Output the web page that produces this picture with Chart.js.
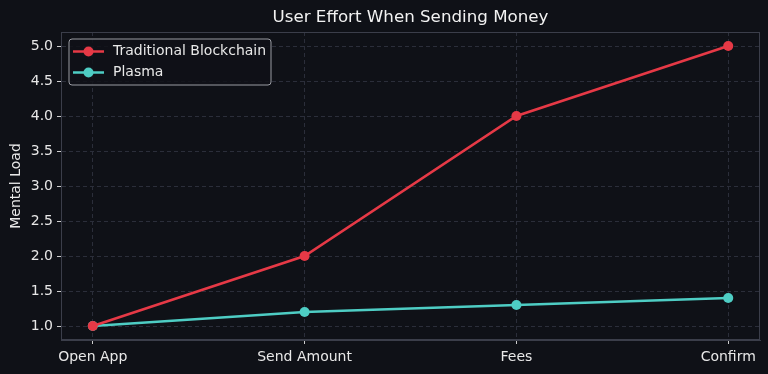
<!DOCTYPE html>
<html>
<head>
<meta charset="utf-8">
<script src="https://cdn.jsdelivr.net/npm/chart.js@4.4.0/dist/chart.umd.min.js"></script>
<style>
html,body{margin:0;padding:0;background:#0f1117;}
#wrap{width:768px;height:374px;position:relative;}
</style>
</head>
<body>
<div id="wrap"><canvas id="c" width="768" height="374"></canvas></div>
<script>
const categories = ["Open App", "Send Amount", "Fees", "Confirm"];
const traditional = [1.0, 2.0, 4.0, 5.0];
const plasma = [1.0, 1.2, 1.3, 1.4];
const yTicks = [1.0, 1.5, 2.0, 2.5, 3.0, 3.5, 4.0, 4.5, 5.0];

const FONT = "'DejaVu Sans', sans-serif";
const TEXT = '#e8e8e8';
const GRID = '#2b2e3a';
const BORDER = '#3b3e4a';

const legendPlugin = {
  id: 'boxLegend',
  afterDraw(chart) {
    const ctx = chart.ctx;
    const a = chart.chartArea;
    const x0 = a.left + 8, y0 = a.top + 7, w = 202, h = 46;
    ctx.save();
    ctx.fillStyle = 'rgba(15,17,23,0.85)';
    ctx.strokeStyle = '#9a9ca3';
    ctx.lineWidth = 1;
    const r = 3;
    ctx.beginPath();
    ctx.moveTo(x0 + r, y0);
    ctx.arcTo(x0 + w, y0, x0 + w, y0 + h, r);
    ctx.arcTo(x0 + w, y0 + h, x0, y0 + h, r);
    ctx.arcTo(x0, y0 + h, x0, y0, r);
    ctx.arcTo(x0, y0, x0 + w, y0, r);
    ctx.closePath();
    ctx.fill();
    ctx.stroke();
    chart.data.datasets.forEach((ds, i) => {
      const yy = y0 + 12.5 + i * 21;
      ctx.strokeStyle = ds.borderColor;
      ctx.lineWidth = 2.5;
      ctx.beginPath();
      ctx.moveTo(x0 + 4, yy);
      ctx.lineTo(x0 + 35, yy);
      ctx.stroke();
      ctx.fillStyle = ds.borderColor;
      ctx.beginPath();
      ctx.arc(x0 + 19.5, yy, 5, 0, Math.PI * 2);
      ctx.fill();
      ctx.fillStyle = TEXT;
      ctx.font = "14px " + FONT;
      ctx.textBaseline = 'middle';
      ctx.textAlign = 'left';
      ctx.fillText(ds.label, x0 + 44, yy);
    });
    ctx.restore();
  }
};

const bgPlugin = {
  id: 'bg',
  beforeDraw(chart) {
    const ctx = chart.ctx;
    ctx.save();
    ctx.fillStyle = '#0f1117';
    ctx.fillRect(0, 0, chart.width, chart.height);
    ctx.restore();
  }
};

const toPts = arr => arr.map((v, i) => ({x: i, y: v}));

new Chart(document.getElementById('c'), {
  type: 'line',
  data: {
    datasets: [
      {
        label: 'Traditional Blockchain',
        data: toPts(traditional),
        borderColor: '#e63946',
        backgroundColor: '#e63946',
        borderWidth: 2.5,
        pointRadius: 5,
        pointHoverRadius: 5,
        pointBorderWidth: 0,
        tension: 0
      },
      {
        label: 'Plasma',
        data: toPts(plasma),
        borderColor: '#4ecdc4',
        backgroundColor: '#4ecdc4',
        borderWidth: 2.5,
        pointRadius: 5,
        pointHoverRadius: 5,
        pointBorderWidth: 0,
        tension: 0
      }
    ]
  },
  options: {
    responsive: false,
    animation: false,
    devicePixelRatio: 1,
    layout: {padding: {left: 0, right: 8, top: 0, bottom: 0}},
    plugins: {
      legend: {display: false},
      tooltip: {enabled: false},
      title: {
        display: true,
        text: 'User Effort When Sending Money',
        color: '#f2f2f2',
        font: {family: FONT, size: 16.7, weight: 'normal', lineHeight: 1.2},
        padding: {top: 8, bottom: 3.96},
        fullSize: false
      }
    },
    scales: {
      x: {
        type: 'linear',
        min: -0.15,
        max: 3.15,
        afterBuildTicks(scale) {
          scale.ticks = categories.map((c, i) => ({value: i}));
        },
        afterFit(scale) { scale.height = 34; },
        ticks: {
          color: TEXT,
          font: {family: FONT, size: 14},
          padding: 5,
          autoSkip: false,
          maxRotation: 0,
          callback: (v) => categories[v] !== undefined ? categories[v] : ''
        },
        grid: {
          color: GRID,
          tickColor: '#cfcfcf',
          tickLength: 4,
          tickBorderDash: [],
          lineWidth: 1
        },
        border: {display: true, color: BORDER, dash: [4, 3]}
      },
      y: {
        type: 'linear',
        min: 0.8,
        max: 5.2,
        afterBuildTicks(scale) {
          scale.ticks = yTicks.map(v => ({value: v}));
        },
        afterFit(scale) { scale.width = 61; },
        ticks: {
          color: TEXT,
          font: {family: FONT, size: 14},
          padding: 4,
          callback: (v) => Number(v).toFixed(1)
        },
        grid: {
          color: GRID,
          tickColor: '#cfcfcf',
          tickLength: 4,
          tickBorderDash: [],
          lineWidth: 1
        },
        border: {display: true, color: BORDER, dash: [4, 3]},
        title: {
          display: true,
          text: 'Mental Load',
          color: TEXT,
          font: {family: FONT, size: 14},
          padding: {top: 8, bottom: 0}
        }
      }
    }
  },
  plugins: [bgPlugin, legendPlugin, {
    id: 'frame',
    afterDatasetsDraw(chart) {
      const a = chart.chartArea, ctx = chart.ctx;
      ctx.save();
      ctx.strokeStyle = BORDER;
      ctx.lineWidth = 1;
      ctx.strokeRect(a.left + 0.5, a.top + 0.5, a.right - a.left - 1, a.bottom - a.top - 1);
      ctx.restore();
    }
  }]
});
</script>
</body>
</html>
